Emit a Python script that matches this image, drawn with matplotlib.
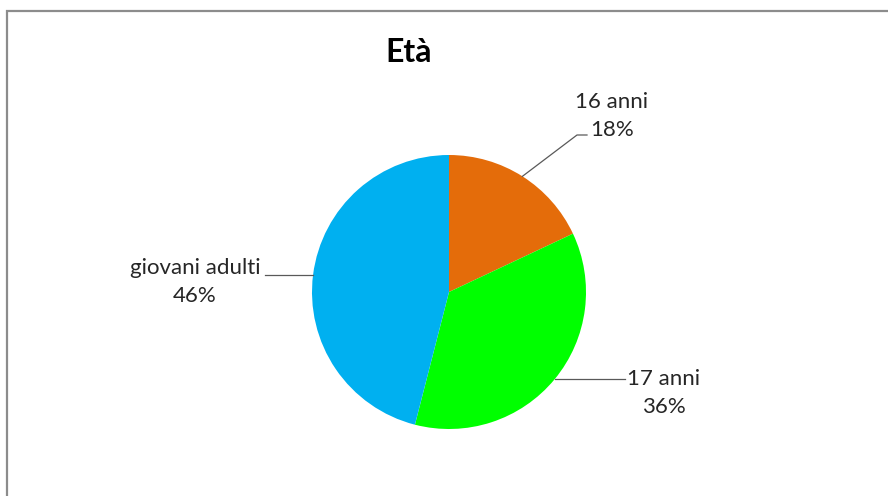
import numpy as np
import matplotlib.pyplot as plt
from matplotlib.patches import Rectangle

# data
categories = ['16 anni', '17 anni', 'giovani adulti']
shares = [18, 36, 46]
colors = ['#E46C0A', '#00FF00', '#00B0F0']

W, H = 888, 496
fig = plt.figure(figsize=(W / 100, H / 100), dpi=100)
ax = fig.add_axes([0, 0, 1, 1])

cx, cy, r = 449, H - 292, 137
wedges, _ = ax.pie(shares, colors=colors, startangle=90, counterclock=False,
                   center=(cx, cy), radius=r, frame=True)
ax.set_xlim(0, W)
ax.set_ylim(0, H)
ax.set_aspect('equal')
ax.axis('off')

# chart frame (pixel coords, y up)
ax.add_patch(Rectangle((7, -20), W + 40, H - 11 + 20, fill=False,
                       edgecolor='#8c8c8c', lw=1.6, zorder=0))

font = 'Lato'
txt_color = '#262626'
ax.text(409, H - 53, 'Età', ha='center', va='center', fontsize=23,
        fontweight='bold', family=font, color='black')

# label positions (text centre) and leader line elbows, in pixels
label_pos = [(612, 116), (664, 393), (195, 282)]
elbows = [[(577, 135), (587, 135)], [(625, 382)], [(265, 271)]]

for w, cat, val, (tx, ty), elb in zip(wedges, categories, shares, label_pos, elbows):
    ang = np.deg2rad((w.theta1 + w.theta2) / 2)
    ex, ey = cx + r * np.cos(ang), cy + r * np.sin(ang)
    pts = [(ex, ey)] + [(x, H - y) for x, y in elb]
    if len(elb) == 1:
        pts[1] = (pts[1][0], ey)
    xs, ys = zip(*pts)
    ax.plot(xs, ys, color='#595959', lw=0.9)
    ax.text(tx, H - ty, f'{cat}\n{val}%', ha='center', va='center',
            fontsize=16, family=font, color=txt_color, linespacing=1.45)

fig.savefig('out.png', dpi=100)
